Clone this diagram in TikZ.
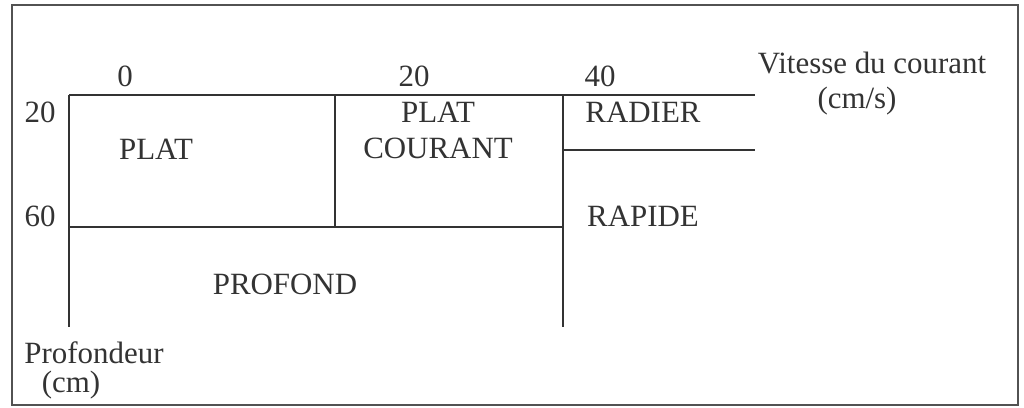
\documentclass[tikz,border=0pt]{standalone}
\usepackage{fontspec}
\setmainfont{Liberation Serif}
\usetikzlibrary{positioning}
\definecolor{ink}{HTML}{333333}
\tikzset{
  rule/.style={draw=ink,line width=1.1pt},
  frame/.style={draw=ink!85,line width=1.2pt},
  lbl/.style={font=\fontsize{17.6}{20}\selectfont,text=ink,inner sep=0pt,anchor=base},
  zone/.style={lbl,align=center}
}
\begin{document}
\begin{tikzpicture}[x=0.02cm,y=-0.02cm]
  \useasboundingbox (0,0) rectangle (1024,408);
  \draw[frame] (12,5) rectangle (1018,405);

  % grid corners
  \coordinate (a0) at (69,95);
  \coordinate (a1) at (335,95);
  \coordinate (a2) at (563,95);
  \coordinate (a3) at (755,95);
  \coordinate (b2) at (563,150);
  \coordinate (b3) at (755,150);
  \coordinate (c0) at (69,227);
  \coordinate (c1) at (335,227);
  \coordinate (c2) at (563,227);
  \coordinate (d0) at (69,327);
  \coordinate (d2) at (563,327);

  \draw[rule] (a0) -- (a3);
  \draw[rule] (b2) -- (b3);
  \draw[rule] (c0) -- (c2);
  \draw[rule] (a0) -- (d0);
  \draw[rule] (a1) -- (c1);
  \draw[rule] (a2) -- (d2);

  % axes
  \node[lbl] (v0) at (125,87) {0};
  \node[lbl] (v20) at (414,87) {20};
  \node[lbl] (v40) at (600,87) {40};
  \node[lbl] (vit) at (872,74) {Vitesse du courant};
  \node[lbl] (vitu) at (857,109) {(cm/s)};
  \node[lbl] (p20) at (40,123) {20};
  \node[lbl] (p60) at (40,227) {60};
  \node[lbl] (prof) at (94,363) {Profondeur};
  \node[lbl] (profu) at (71,393) {(cm)};

  % zones
  \node[zone] (plat) at (156,160) {PLAT};
  \node[zone] (platc) at (438,123) {PLAT};
  \node[zone] (platc2) at (438,159) {COURANT};
  \node[zone] (radier) at (643,123) {RADIER};
  \node[zone] (rapide) at (643,227) {RAPIDE};
  \node[zone] (profond) at (285,295) {PROFOND};
\end{tikzpicture}
\end{document}
